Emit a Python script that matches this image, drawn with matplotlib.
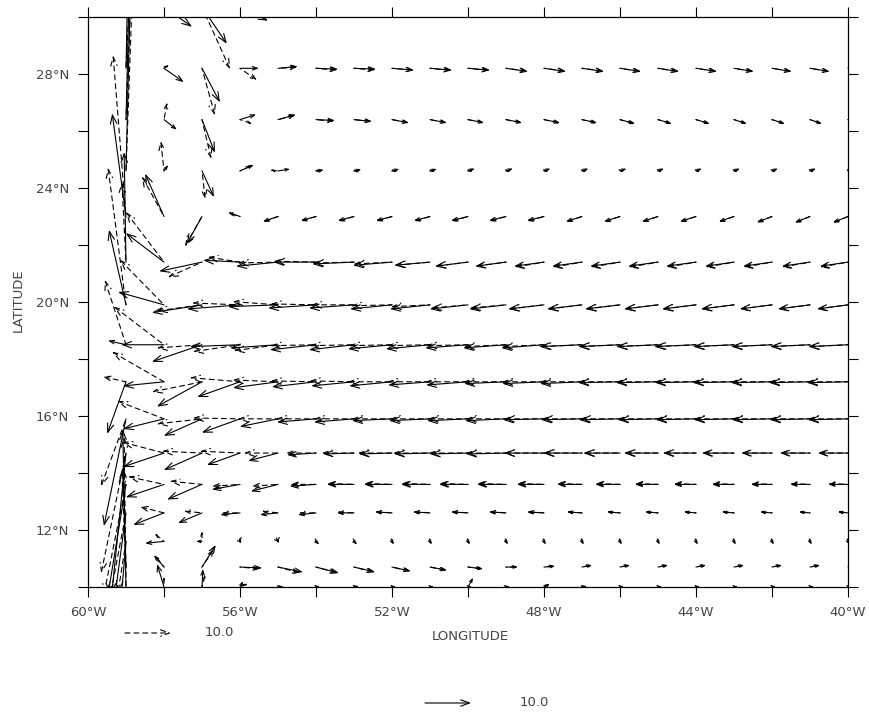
import numpy as np
import matplotlib
matplotlib.use("Agg")
import matplotlib.pyplot as plt
from matplotlib.ticker import MultipleLocator, FuncFormatter
from matplotlib.patches import FancyArrowPatch

# ---------------- data ----------------
lons = [-60, -59, -58, -57, -56, -55, -54, -53, -52, -51, -50,
        -49, -48, -47, -46, -45, -44, -43, -42, -41, -40]
lats = [30.35, 28.2, 26.4, 24.6, 23.0, 21.4, 19.9, 18.5, 17.2,
        15.9, 14.7, 13.6, 12.6, 11.6, 10.7, 10.0]

u_solid = [
 [0, 0, 6.1, 5.4, 6.1, 4.3, 0, 0, 0, 0, 0, 0, 0, 0, 0, 0, 0, 0, 0, 0, 0],
 [0, 0.4, 4.3, 3.9, 4.1, 4.3, 4.8, 4.8, 4.8, 4.8, 4.8, 4.8, 4.8, 4.8, 4.6, 4.6, 4.6, 4.3, 4.3, 4.3, 4.3],
 [0, 0.7, 2.8, 2.8, 3.5, 3.9, 4.1, 3.9, 3.7, 3.7, 3.5, 3.5, 3.5, 3.3, 3.3, 3.0, 3.0, 2.8, 2.8, 2.6, 2.6],
 [0, 0.9, 0.9, 2.6, 3.0, 2.6, 1.7, 1.6, 1.6, 1.5, 1.5, 1.5, 1.4, 1.4, 1.4, 1.3, 1.3, 1.3, 1.3, 1.3, 1.3],
 [0, -3.0, -4.1, -3.3, -2.6, -3.3, -3.3, -3.5, -3.5, -3.5, -3.7, -3.7, -3.7, -3.5, -3.5, -3.5, -3.5, -3.3, -3.3, -3.3, -3.3],
 [0, -0.4, -8.3, -9.3, -8.0, -9.1, -9.3, -9.1, -8.5, -7.8, -7.2, -6.7, -6.5, -6.5, -6.5, -6.5, -6.5, -6.3, -6.3, -6.1, -6.1],
 [0, -3.7, -10.0, -10.9, -11.5, -10.9, -10.4, -9.8, -9.1, -8.7, -8.3, -8.0, -7.8, -7.6, -7.6, -7.4, -7.4, -7.2, -7.0, -7.0, -6.7],
 [0, -3.9, -9.3, -10.9, -10.9, -10.4, -10.0, -9.8, -9.6, -9.6, -9.3, -9.3, -9.3, -9.3, -9.1, -9.1, -9.1, -8.9, -8.9, -8.7, -8.7],
 [0, -4.1, -8.9, -9.8, -9.3, -9.8, -9.6, -9.3, -9.3, -9.1, -9.1, -9.1, -9.1, -9.1, -9.1, -9.1, -8.9, -8.9, -8.9, -8.9, -8.9],
 [0, -4.8, -8.9, -8.3, -8.3, -8.3, -8.5, -8.7, -8.7, -8.9, -8.9, -8.9, -8.9, -8.9, -8.9, -8.7, -8.7, -8.7, -8.7, -8.7, -8.7],
 [0, -3.3, -8.9, -8.3, -7.2, -6.5, -6.3, -6.7, -7.2, -7.8, -8.3, -8.7, -8.7, -8.5, -8.0, -7.4, -7.2, -7.0, -6.7, -6.5, -6.5],
 [0, -3.9, -8.3, -7.6, -6.1, -5.9, -5.7, -5.9, -6.1, -6.3, -6.3, -6.3, -5.9, -5.4, -5.4, -5.0, -4.8, -4.8, -4.6, -4.3, -4.3],
 [0, -2.6, -6.7, -5.2, -4.3, -3.9, -3.9, -3.7, -3.7, -3.7, -3.7, -3.7, -3.7, -3.3, -2.8, -2.8, -2.6, -2.6, -2.6, -2.4, -2.2],
 [0, -1.1, -4.1, -1.3, 0.4, 0.2, 0.7, 0.7, 0.4, 0.4, 0.4, 0.4, 0.4, 0.4, 0.4, 0.4, 0.4, 0.4, 0.4, 0.4, 0.4],
 [0, -0.7, -2.2, 3.0, 4.8, 5.4, 5.0, 4.6, 4.1, 3.7, 3.3, 2.6, 2.4, 2.2, 2.2, 2.2, 2.2, 2.2, 2.2, 2.2, 2.2],
 [0, -0.7, -1.5, 0.2, 0.7, 1.3, 0.9, 1.1, 0.9, 0.9, 1.1, 0.7, 1.3, 1.1, 0.9, 0.9, 0.9, 0.9, 0.9, 0.9, 0.9],
]
v_solid = [
 [0, 0, -4.3, -8.0, -3.0, -1.3, 0, 0, 0, 0, 0, 0, 0, 0, 0, 0, 0, 0, 0, 0, 0],
 [0, 19.6, -3.0, -7.4, 0, 0.4, -0.2, -0.2, -0.4, -0.4, -0.4, -0.7, -0.7, -0.7, -0.7, -0.7, -0.7, -0.7, -0.7, -0.7, -0.7],
 [0, 28.3, -2.2, -7.2, 1.1, 1.1, -0.2, -0.4, -0.7, -0.7, -0.7, -0.7, -0.7, -0.7, -0.9, -0.9, -0.9, -0.9, -0.9, -0.9, -0.9],
 [0, 37.0, 1.3, -5.7, 1.3, 0.4, 0.2, 0.3, 0.4, 0.4, 0.5, 0.5, 0.5, 0.5, 0.5, 0.5, 0.5, 0.5, 0.5, 0.5, 0.5],
 [0, 22.4, 9.3, -5.9, 0.9, -1.1, -0.9, -0.9, -0.9, -0.9, -0.9, -0.9, -0.9, -1.1, -1.1, -1.1, -1.1, -1.1, -1.3, -1.3, -1.3],
 [0, 23.9, 6.3, -2.0, 0.4, -0.9, 0, -0.4, -0.7, -0.7, -0.9, -0.9, -0.9, -0.9, -0.9, -0.9, -0.9, -0.9, -0.9, -0.9, -0.9],
 [0, 16.3, 2.8, -1.7, -0.9, -0.4, -0.7, -0.7, -0.9, -0.9, -0.9, -0.9, -0.9, -0.9, -0.9, -0.9, -0.9, -0.9, -0.9, -0.9, -0.9],
 [0, 0.9, 0, -3.7, -0.4, -0.7, -1.1, -1.1, -0.9, -0.9, -0.7, -0.7, -0.7, -0.4, -0.4, -0.4, -0.4, -0.4, -0.4, -0.4, -0.4],
 [0, -11.3, -0.9, -5.4, -3.3, -1.3, -1.1, -0.9, -0.9, -0.7, -0.7, -0.4, -0.4, -0.4, -0.2, -0.2, -0.2, -0.2, -0.2, -0.2, -0.2],
 [0, -23.3, -2.2, -3.7, -3.0, -1.7, -0.7, -0.7, -0.4, -0.4, -0.4, -0.4, -0.2, -0.2, -0.2, -0.2, -0.2, -0.2, -0.2, -0.2, -0.2],
 [0, -32.6, -3.0, -3.7, -2.6, -1.7, -0.4, -0.2, -0.2, -0.2, -0.2, -0.2, 0, 0, 0, 0, 0, 0, 0, 0, 0],
 [0, -23.9, -2.8, -3.3, -1.1, -1.5, -0.4, 0, 0, 0, 0, 0, 0, 0, 0, 0, 0, 0, 0, 0, 0],
 [0, -19.6, -2.6, -2.2, -0.4, -0.4, -0.4, 0, 0.2, 0.2, 0.2, 0.2, 0.2, 0.2, 0.2, 0.2, 0.2, 0.2, 0.2, 0.2, 0.2],
 [0, -13.0, -0.4, 0, -0.4, -0.2, -0.7, -0.7, -0.7, -0.7, -0.7, -0.7, -0.7, -0.7, -0.7, -0.7, -0.7, -0.7, -0.7, -0.7, -0.7],
 [0, 21.7, 2.6, 4.8, -0.2, -1.1, -1.3, -1.1, -0.9, -0.7, -0.4, 0, 0.2, 0.4, 0.4, 0.4, 0.4, 0.4, 0.4, 0.4, 0.4],
 [0, 34.3, 5.0, 3.9, 1.3, 0, 0, 0.2, 0, 0, 2.0, 0, 0.7, 0.2, 0, 0, 0, 0, 0, 0, 0],
]
u_dash = [
 [0, 0, 0, 6.1, 5.2, 0, 0, 0, 0, 0, 0, 0, 0, 0, 0, 0, 0, 0, 0, 0, 0],
 [0, 0.9, 1.1, 2.8, 3.7, 4.1, 4.6, 4.6, 4.6, 4.6, 4.6, 4.6, 4.6, 4.6, 4.3, 4.3, 4.3, 4.1, 4.1, 4.1, 4.1],
 [0, 1.1, 0.7, 2.0, 2.6, 3.7, 3.9, 3.7, 3.5, 3.5, 3.3, 3.3, 3.3, 3.0, 3.0, 2.8, 2.8, 2.6, 2.6, 2.4, 2.4],
 [0, 1.3, -0.7, 0.7, 2.4, -1.7, 1.3, 1.2, 1.2, 1.1, 1.1, 1.0, 1.0, 1.0, 0.9, 0.9, 0.9, 0.9, 0.9, 0.9, 0.9],
 [0, -2.8, -4.8, -3.7, -2.2, -3.0, -3.2, -3.3, -3.3, -3.3, -3.5, -3.5, -3.5, -3.3, -3.3, -3.3, -3.3, -3.2, -3.2, -3.2, -3.2],
 [0, -0.9, -8.3, -7.4, -7.0, -8.7, -9.1, -8.9, -8.3, -7.6, -7.0, -6.5, -6.3, -6.3, -6.3, -6.3, -6.3, -6.1, -6.1, -6.1, -6.1],
 [0, -3.9, -9.6, -9.8, -10.4, -9.8, -9.8, -9.3, -8.9, -8.5, -8.0, -7.8, -7.6, -7.4, -7.4, -7.2, -7.2, -7.0, -7.0, -6.8, -6.7],
 [0, -4.6, -10.9, -9.8, -10.2, -9.6, -9.8, -9.6, -9.3, -9.3, -9.1, -9.1, -9.1, -9.0, -8.9, -8.9, -8.8, -8.7, -8.7, -8.5, -8.5],
 [0, -5.0, -11.3, -10.9, -10.9, -9.8, -9.8, -9.6, -9.6, -9.3, -9.3, -9.3, -9.1, -9.1, -9.1, -9.1, -9.0, -9.0, -8.9, -8.9, -8.9],
 [0, -5.4, -10.2, -9.8, -10.2, -8.7, -8.7, -8.7, -8.7, -8.7, -8.7, -8.7, -8.7, -8.7, -8.7, -8.7, -8.7, -8.7, -8.7, -8.7, -8.7],
 [0, -5.4, -9.1, -8.7, -8.7, -7.4, -6.5, -7.0, -7.4, -8.0, -8.5, -8.7, -8.7, -8.3, -7.8, -7.2, -7.0, -6.8, -6.6, -6.5, -6.5],
 [0, -4.8, -7.8, -7.0, -6.1, -5.7, -5.6, -5.8, -6.0, -6.2, -6.2, -6.2, -5.8, -5.4, -5.3, -5.0, -4.8, -4.7, -4.5, -4.3, -4.3],
 [0, -3.3, -5.2, -3.9, -3.9, -3.5, -3.7, -3.6, -3.6, -3.6, -3.6, -3.6, -3.5, -3.2, -2.8, -2.7, -2.6, -2.6, -2.5, -2.3, -2.2],
 [0, -1.7, -2.0, 0, 0, 0, 0.4, 0.4, 0.4, 0.4, 0.4, 0.4, 0.4, 0.4, 0.4, 0.4, 0.4, 0.4, 0.4, 0.4, 0.4],
 [0, -0.9, -1.7, 2.6, 4.3, 4.8, 4.6, 4.3, 3.9, 3.5, 3.0, 2.4, 2.2, 2.0, 2.0, 2.0, 2.0, 2.0, 2.0, 2.0, 2.0],
 [0, -0.4, 0, 0.7, 1.7, 0.9, 0.9, 0.9, 0.9, 0.9, 0.9, 0.9, 1.1, 0.9, 0.9, 0.9, 0.9, 0.9, 0.9, 0.9, 0.9],
]
v_dash = [
 [0, 0, 0, -13.5, -2.2, 0, 0, 0, 0, 0, 0, 0, 0, 0, 0, 0, 0, 0, 0, 0, 0],
 [0, 19.1, 0.7, -10.2, -2.6, 0.2, -0.4, -0.4, -0.4, -0.5, -0.5, -0.6, -0.6, -0.6, -0.7, -0.7, -0.7, -0.7, -0.7, -0.7, -0.7],
 [0, 27.8, 3.7, -8.5, -0.9, 0.9, -0.4, -0.4, -0.7, -0.7, -0.7, -0.7, -0.8, -0.8, -0.9, -0.9, -0.9, -0.9, -0.9, -0.9, -0.9],
 [0, 36.5, 6.5, -6.1, 1.1, 0.2, -0.2, -0.2, -0.1, -0.1, 0, 0, 0, 0, 0, 0, 0, 0, 0, 0, 0],
 [0, 35.0, 8.7, -6.5, 0.7, -1.1, -1.0, -1.0, -1.0, -1.0, -1.0, -1.0, -1.0, -1.1, -1.1, -1.1, -1.1, -1.2, -1.2, -1.3, -1.3],
 [0, 17.4, 10.9, -3.3, 1.1, -0.2, 0.2, -0.2, -0.4, -0.7, -0.9, -0.9, -1.1, -1.1, -1.1, -1.1, -1.1, -1.1, -1.1, -1.1, -1.1],
 [0, 29.8, 9.8, -1.3, 0.4, 0.7, 0.2, 0, -0.2, -0.4, -0.7, -0.7, -0.9, -0.9, -0.9, -0.9, -0.9, -0.9, -0.9, -0.9, -0.9],
 [0, 14.1, 8.3, -0.7, -1.5, -1.3, -0.2, -0.2, -0.2, -0.2, -0.2, -0.4, -0.4, -0.4, -0.4, -0.4, -0.4, -0.4, -0.4, -0.4, -0.4],
 [0, 1.1, 6.5, -2.2, 0.9, 0.4, 0.2, 0.2, 0, 0, 0, 0, 0, 0, 0, 0, 0, 0, 0, 0, 0],
 [0, -14.6, 3.9, -1.1, 0.2, 0, 0, 0, 0, 0, 0, 0, 0, 0, 0, 0, 0, 0, 0, 0, 0],
 [0, -26.1, 2.4, 0.4, 0.4, 0, 0, 0, 0, 0, 0, 0, 0, 0, 0, 0, 0, 0, 0, 0, 0],
 [0, -23.9, 1.7, 0.7, -0.4, -0.4, 0, 0.2, 0.2, 0.2, 0.2, 0.2, 0.2, 0.2, 0.2, 0.2, 0.2, 0.2, 0.2, 0.2, 0.2],
 [0, -17.4, 1.3, 0.4, 0, 0.4, 0, 0.2, 0.3, 0.3, 0.3, 0.3, 0.3, 0.3, 0.3, 0.3, 0.3, 0.3, 0.3, 0.3, 0.3],
 [0, -10.9, 1.7, 2.2, -0.2, -0.2, -0.4, -0.4, -0.4, -0.4, -0.4, -0.4, -0.4, -0.4, -0.4, -0.4, -0.4, -0.4, -0.4, -0.4, -0.4],
 [0, 20.7, 2.2, 3.9, -0.4, -1.3, -1.3, -1.1, -0.9, -0.7, -0.4, 0, 0.2, 0.4, 0.4, 0.4, 0.4, 0.4, 0.4, 0.4, 0.4],
 [0, 32.6, 2.2, 2.6, 0.7, -0.2, 0, 0, 0, 0, 0, 0, 0.4, 0, 0, 0, 0, 0, 0, 0, 0],
]

key_value = 10.0
key_label = "10.0"

# ---------------- style ----------------
W, H, DPI = 870, 715, 100
KEY_PX = 46.0                       # on-page length of a 10.0 vector
PT_PER_UNIT = KEY_PX * 72.0 / DPI / key_value
TXT = "#444444"
DASH = (0, (4.5, 3.5))

fig = plt.figure(figsize=(W / DPI, H / DPI), dpi=DPI)
ax = fig.add_axes([88 / W, 1 - 587 / H, 760 / W, 570 / H])
ax.set_xlim(-60, -40)
ax.set_ylim(10, 30)


def head_props(length_pt):
    hl = min(6.3, max(2.4, 0.26 * length_pt))
    return hl / 0.9


def draw_field(uu, vv, ls):
    for j, lat in enumerate(lats):
        for i, lon in enumerate(lons):
            u = uu[j][i]
            v = vv[j][i]
            if u == 0 and v == 0:
                continue
            dx = u * PT_PER_UNIT
            dy = v * PT_PER_UNIT
            L = np.hypot(dx, dy)
            a = ax.annotate(
                "", xy=(lon, lat), xycoords="data",
                xytext=(dx, dy), textcoords="offset points",
                annotation_clip=False,
                arrowprops=dict(arrowstyle="<-,head_length=0.9,head_width=0.33",
                                lw=0.8, color="black", linestyle=ls,
                                shrinkA=0, shrinkB=0,
                                mutation_scale=head_props(L)))
            a.arrow_patch.set_clip_box(ax.bbox)
            a.arrow_patch.set_clip_on(True)


draw_field(u_dash, v_dash, DASH)
draw_field(u_solid, v_solid, "-")

# ---------------- axes ----------------
ax.xaxis.set_major_locator(MultipleLocator(4))
ax.xaxis.set_minor_locator(MultipleLocator(2))
ax.yaxis.set_major_locator(MultipleLocator(4))
ax.yaxis.set_minor_locator(MultipleLocator(2))
ax.xaxis.set_major_formatter(FuncFormatter(lambda v, p: f"{abs(int(round(v)))}°W"))
ax.yaxis.set_major_formatter(FuncFormatter(lambda v, p: f"{int(round(v))}°N"))
ax.tick_params(which="both", direction="out", length=7.5, width=0.8,
               top=True, right=True, color="black")
ax.tick_params(which="major", labelsize=9.5, labelcolor=TXT, pad=6)
for s in ax.spines.values():
    s.set_linewidth(0.9)

fig.text(18 / W, 1 - 300 / H, "LATITUDE", rotation=90, ha="center", va="center",
         fontsize=9.5, color=TXT)
fig.text(470 / W, 1 - 637 / H, "LONGITUDE", ha="center", va="center",
         fontsize=9.5, color=TXT)

# ---------------- keys ----------------
def key_arrow(x0px, ypx, ls):
    x1px = x0px + key_value * PT_PER_UNIT * DPI / 72.0
    p = FancyArrowPatch((x0px / W, 1 - ypx / H), (x1px / W, 1 - ypx / H),
                        transform=fig.transFigure,
                        arrowstyle="->,head_length=0.9,head_width=0.33",
                        mutation_scale=head_props(key_value * PT_PER_UNIT),
                        lw=0.8, color="black", linestyle=ls,
                        shrinkA=0, shrinkB=0)
    fig.add_artist(p)


key_arrow(125, 633, DASH)
fig.text(205 / W, 1 - 633 / H, key_label, ha="left", va="center", fontsize=9.5, color=TXT)
key_arrow(425, 703, "-")
fig.text(520 / W, 1 - 703 / H, key_label, ha="left", va="center", fontsize=9.5, color=TXT)

fig.savefig("out.png", dpi=DPI)
